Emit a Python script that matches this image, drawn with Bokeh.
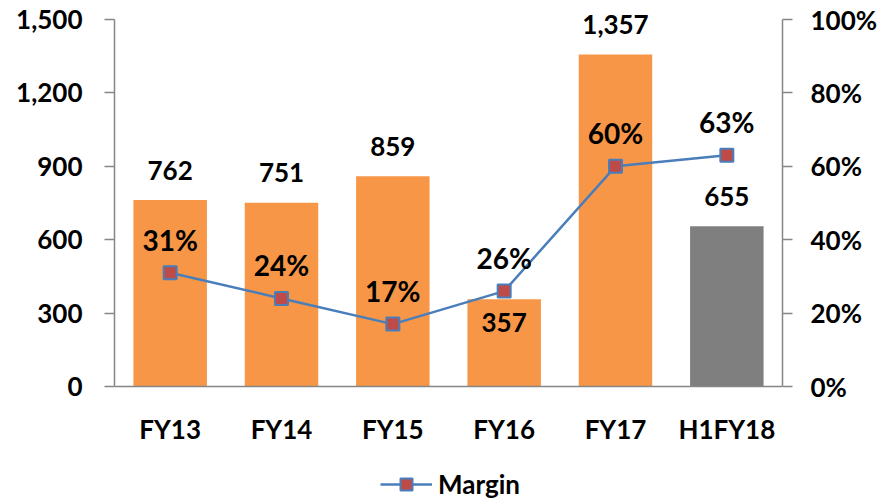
from bokeh.plotting import figure
from bokeh.models import (ColumnDataSource, LinearAxis, Range1d, LabelSet, Legend,
                          LegendItem, NumeralTickFormatter, FixedTicker, FactorRange)
from bokeh.core.properties import value
from bokeh.embed import file_html
from bokeh.resources import INLINE

categories = ["FY13", "FY14", "FY15", "FY16", "FY17", "H1FY18"]
revenue = [762, 751, 859, 357, 1357, 655]
margin = [0.31, 0.24, 0.17, 0.26, 0.60, 0.63]
revenue_labels = ["762", "751", "859", "357", "1,357", "655"]
margin_labels = ["31%", "24%", "17%", "26%", "60%", "63%"]
left_ticks = [0, 300, 600, 900, 1200, 1500]
right_ticks = [0, 0.2, 0.4, 0.6, 0.8, 1.0]
left_max = 1500
right_max = 1.0

ORANGE = "#F79646"
GREY = "#7F7F7F"
BLUE = "#4A7EBB"
RED = "#BE4B48"
AXIS = "#868686"
FONT = "Lato"
FS = "26px"
FS_PCT = "28px"

# layout (pixels)
W, H = 880, 500
LEFT, RIGHT = 114, 97
TOP_Y = 19              # pixel row of the axis maximum
AXIS_Y = 386            # pixel row of the zero line
plot_h = AXIS_Y - TOP_Y
below_frac = (H - AXIS_Y) / plot_h
above_frac = TOP_Y / plot_h

bar_colors = [GREY if c.startswith("H1") else ORANGE for c in categories]
rev_offsets = [-23 if v < 400 else 30 for v in revenue]

src = ColumnDataSource(dict(cat=categories, rev=revenue, margin=margin,
                            rev_label=revenue_labels, m_label=margin_labels,
                            color=bar_colors, rev_off=rev_offsets))

p = figure(x_range=FactorRange(*categories),
           y_range=Range1d(-left_max * below_frac, left_max * (1 + above_frac)),
           width=W, height=H, output_backend="svg", toolbar_location=None,
           min_border_left=LEFT, min_border_right=RIGHT, min_border_top=0,
           min_border_bottom=0)
p.outline_line_color = None
p.xgrid.grid_line_color = None
p.ygrid.grid_line_color = None
p.background_fill_color = "white"
p.border_fill_color = "white"

p.extra_y_ranges = {"m": Range1d(-right_max * below_frac, right_max * (1 + above_frac))}


def style_axis(ax, standoff):
    ax.axis_line_color = AXIS
    ax.axis_line_width = 1.5
    ax.minor_tick_line_color = None
    ax.major_label_text_font = FONT
    ax.major_label_text_font_style = "bold"
    ax.major_label_text_font_size = FS
    ax.major_label_text_color = "black"
    ax.major_label_standoff = standoff


# left axis
ya = p.yaxis[0]
ya.ticker = FixedTicker(ticks=left_ticks)
ya.formatter = NumeralTickFormatter(format="0,0")
ya.bounds = (0, left_max)
style_axis(ya, 22)
ya.major_tick_line_color = AXIS
ya.major_tick_line_width = 1.5
ya.major_tick_out = 10
ya.major_tick_in = 0

# right axis
ra = LinearAxis(y_range_name="m", ticker=FixedTicker(ticks=right_ticks),
                formatter=NumeralTickFormatter(format="0%"), bounds=(0, right_max))
style_axis(ra, 18)
ra.major_tick_line_color = AXIS
ra.major_tick_line_width = 1.5
ra.major_tick_out = 10
ra.major_tick_in = 0
p.add_layout(ra, "right")

# x axis, pinned to the zero line
xa = p.xaxis[0]
xa.fixed_location = 0
style_axis(xa, 20)
xa.major_tick_line_color = None

p.vbar(x="cat", top="rev", width=0.66, fill_color="color", line_color=None, source=src)

line_r = p.line(x="cat", y="margin", y_range_name="m", line_color=BLUE,
                line_width=2.5, source=src)
pts_r = p.scatter(x="cat", y="margin", y_range_name="m", marker="square", size=13,
                  fill_color=RED, line_color=BLUE, line_width=2, source=src)

rev_lbl = LabelSet(x="cat", y="rev", text="rev_label", y_offset="rev_off", source=src,
                   text_align="center", text_baseline="middle", text_font=value(FONT),
                   text_font_style="bold", text_font_size=FS, text_color="black")
p.add_layout(rev_lbl)

m_lbl = LabelSet(x="cat", y="margin", text="m_label", y_range_name="m", y_offset=33,
                 source=src, text_align="center", text_baseline="middle",
                 text_font=value(FONT), text_font_style="bold", text_font_size=FS_PCT,
                 text_color="black")
p.add_layout(m_lbl)

legend = Legend(items=[LegendItem(label="Margin", renderers=[line_r, pts_r])],
                location=(266, 0), orientation="horizontal",
                label_text_font=FONT, label_text_font_style="bold",
                label_text_font_size=FS, label_text_color="black",
                glyph_width=52, glyph_height=30, label_standoff=6,
                border_line_color=None, background_fill_alpha=0,
                padding=0, margin=0)
p.add_layout(legend)

open("out.html", "w").write(file_html(p, INLINE))
